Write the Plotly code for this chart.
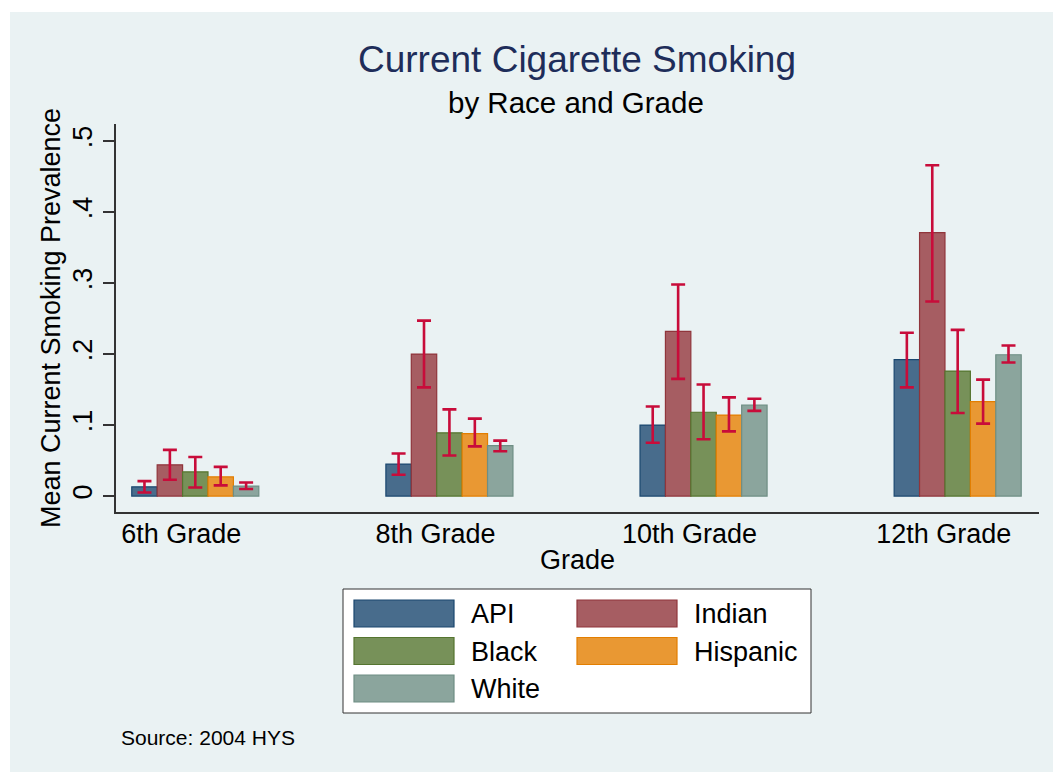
import plotly.graph_objects as go

# Grade categories and race groups
grades = ["6th Grade", "8th Grade", "10th Grade", "12th Grade"]
races = ["API", "Indian", "Black", "Hispanic", "White"]

# Mean current smoking prevalence by race (one value per grade)
mean_api = [0.013, 0.045, 0.100, 0.192]
mean_indian = [0.044, 0.200, 0.232, 0.371]
mean_black = [0.034, 0.089, 0.118, 0.176]
mean_hispanic = [0.027, 0.088, 0.114, 0.133]
mean_white = [0.014, 0.071, 0.128, 0.199]

# Upper confidence limits
hi_api = [0.021, 0.060, 0.126, 0.230]
hi_indian = [0.065, 0.247, 0.298, 0.466]
hi_black = [0.055, 0.122, 0.157, 0.234]
hi_hispanic = [0.041, 0.109, 0.139, 0.164]
hi_white = [0.019, 0.078, 0.137, 0.212]

# Lower confidence limits
lo_api = [0.005, 0.030, 0.075, 0.153]
lo_indian = [0.023, 0.153, 0.165, 0.274]
lo_black = [0.012, 0.057, 0.080, 0.117]
lo_hispanic = [0.015, 0.070, 0.091, 0.102]
lo_white = [0.010, 0.063, 0.120, 0.188]

# Y axis ticks
ytick_vals = [0, 0.1, 0.2, 0.3, 0.4, 0.5]
ytick_text = ["0", ".1", ".2", ".3", ".4", ".5"]

means = [mean_api, mean_indian, mean_black, mean_hispanic, mean_white]
highs = [hi_api, hi_indian, hi_black, hi_hispanic, hi_white]
lows = [lo_api, lo_indian, lo_black, lo_hispanic, lo_white]

fill_colors = ["rgb(72,108,140)", "rgb(166,93,98)", "rgb(119,145,89)",
               "rgb(233,152,51)", "rgb(139,165,157)"]
edge_colors = ["rgb(26,71,111)", "rgb(144,53,59)", "rgb(85,117,47)",
               "rgb(227,126,0)", "rgb(110,142,132)"]
ci_color = "rgb(200,12,58)"
bg = "#EAF2F3"
FONT = "Liberation Sans, Arial, sans-serif"

W, H = 1053, 772
L, R, T, B = 116, 14, 124, 260
PW, PH = W - L - R, H - T - B


def px(x):
    return (x - L) / PW


def py(y):
    return (H - B - y) / PH


fig = go.Figure()
for name, m, hi, lo, fc, ec in zip(races, means, highs, lows, fill_colors, edge_colors):
    fig.add_trace(go.Bar(
        name=name, x=grades, y=m,
        marker=dict(color=fc, line=dict(color=ec, width=1.2)),
        error_y=dict(type="data", symmetric=False,
                     array=[h - v for h, v in zip(hi, m)],
                     arrayminus=[v - l for v, l in zip(m, lo)],
                     color=ci_color, thickness=2.6, width=7),
        showlegend=False,
    ))

shapes = [
    # outer graph region
    dict(type="rect", xref="paper", yref="paper", x0=px(10), x1=px(W + 5),
         y0=py(H + 5), y1=py(12), fillcolor=bg, line=dict(width=0), layer="below"),
    # legend box
    dict(type="rect", xref="paper", yref="paper", x0=px(343), x1=px(811),
         y0=py(713), y1=py(589), fillcolor="white", line=dict(color="#333333", width=1)),
]
annotations = []

# Legend entries: two columns, filled row by row
col_x = [354, 577]
row_y = [600, 637.5, 675]
for i, (name, fc, ec) in enumerate(zip(races, fill_colors, edge_colors)):
    r, c = divmod(i, 2)
    x0 = col_x[c]
    y0 = row_y[r]
    shapes.append(dict(type="rect", xref="paper", yref="paper",
                       x0=px(x0), x1=px(x0 + 100), y0=py(y0 + 27), y1=py(y0),
                       fillcolor=fc, line=dict(color=ec, width=1.2)))
    annotations.append(dict(text=name, xref="paper", yref="paper",
                            x=px(x0 + 115), y=py(y0 + 14), xanchor="left", yanchor="middle",
                            showarrow=False, font=dict(family=FONT, size=27, color="black")))

annotations += [
    dict(text="Current Cigarette Smoking", xref="paper", yref="paper",
         x=px(577), y=py(60), xanchor="center", yanchor="middle", showarrow=False,
         font=dict(family=FONT, size=37, color="rgb(30,45,90)")),
    dict(text="by Race and Grade", xref="paper", yref="paper",
         x=px(576), y=py(103), xanchor="center", yanchor="middle", showarrow=False,
         font=dict(family=FONT, size=29.5, color="black")),
    dict(text="Source: 2004 HYS", xref="paper", yref="paper",
         x=px(119), y=py(737), xanchor="left", yanchor="middle", showarrow=False,
         font=dict(family=FONT, size=21, color="black")),
]

fig.update_layout(
    width=W, height=H,
    margin=dict(l=L, r=R, t=T, b=B, pad=0),
    paper_bgcolor="white", plot_bgcolor="white",
    barmode="group", bargap=0.5, bargroupgap=0,
    shapes=shapes, annotations=annotations,
    font=dict(family=FONT, color="black"),
    xaxis=dict(
        range=[-0.312, 3.320], showgrid=False, zeroline=False,
        showline=True, linecolor="#333333", linewidth=1.5,
        ticks="", tickfont=dict(size=27, family=FONT, color="black"),
        ticklabelshift=-14, ticklabelstandoff=-3,
        title=dict(text="Grade", font=dict(size=27, family=FONT, color="black"), standoff=2),
    ),
    yaxis=dict(
        range=[-0.0225, 0.524], tickvals=ytick_vals, ticktext=ytick_text,
        tickangle=-90, ticks="outside", ticklen=11, tickwidth=1.5, tickcolor="#333333",
        showline=True, linecolor="#333333", linewidth=1.5,
        showgrid=True, gridcolor=bg, gridwidth=2.5, zeroline=False,
        tickfont=dict(size=27, family=FONT, color="black"),
        title=dict(text="Mean Current Smoking Prevalence",
                   font=dict(size=27, family=FONT, color="black"), standoff=0),
    ),
)

fig.write_html("out.html")
